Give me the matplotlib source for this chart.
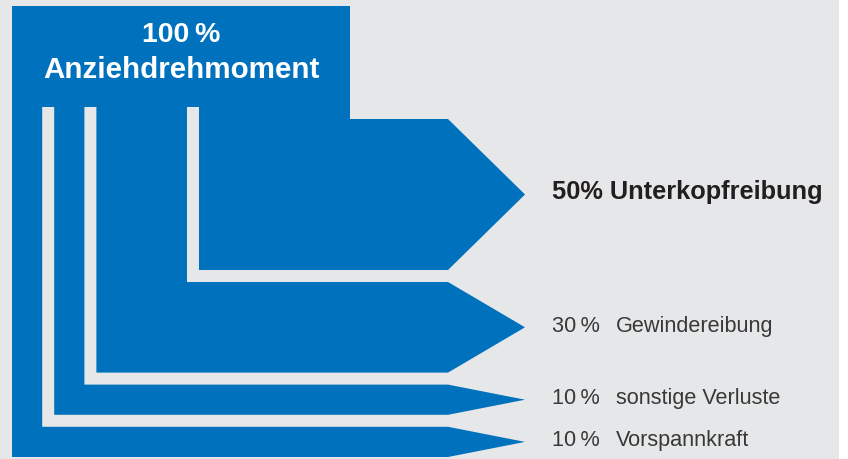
import matplotlib.pyplot as plt
from matplotlib.patches import Polygon, Rectangle

# shares of the tightening torque, from bottom / left flow to top / right flow
shares = [10, 10, 30, 50]
pct_labels = ["10\u2009%", "10\u2009%", "30\u2009%", "50%"]
names = ["Vorspannkraft", "sonstige Verluste", "Gewindereibung", "Unterkopfreibung"]
title_pct = "100\u2009%"
title_name = "Anziehdrehmoment"

blue = "#0071bc"
bg = "#e6e7e8"
fam = ["Liberation Sans", "DejaVu Sans"]

W, H = 848, 459
fig = plt.figure(figsize=(W / 100, H / 100), dpi=100)
ax = fig.add_axes([0, 0, 1, 1])
ax.set_xlim(0, W)
ax.set_ylim(H, 0)
ax.axis("off")
fig.patch.set_facecolor("white")

# gray panel
ax.add_patch(Rectangle((0, 0), 839, H, color=bg, lw=0))

u = 3.02        # px per percent
gap = 12        # gaps between flows
x0, y_top, y_bot = 12, 6, 457
y_split = 106   # where the flows separate
x_body, x_tip = 448, 525

# top block (100 %)
total_w = sum(shares) * u + gap * (len(shares) - 1)
ax.add_patch(Rectangle((x0, y_top), total_w, y_split - y_top + 1, color=blue, lw=0))

xl = x0
yb = y_bot
for i, s in enumerate(shares):
    w = s * u
    xr = xl + w
    bt = yb - w
    mid = (bt + yb) / 2
    pts = [(xl, y_split), (xr, y_split), (xr, bt), (x_body, bt),
           (x_tip, mid), (x_body, yb), (xl, yb)]
    ax.add_patch(Polygon(pts, closed=True, color=blue, lw=0))

    if s == max(shares):
        ax.text(552, mid + 4, pct_labels[i] + " " + names[i], fontsize=18.3,
                fontweight="bold", color="#231f20", va="baseline", ha="left",
                family=fam)
    else:
        ax.text(552, mid + 4.5, pct_labels[i], fontsize=15.6, color="#383838",
                va="baseline", ha="left", family=fam)
        ax.text(616, mid + 4.5, names[i], fontsize=15.6, color="#383838",
                va="baseline", ha="left", family=fam)

    xl = xr + gap
    yb = bt - gap

cx = x0 + total_w / 2
ax.text(cx, 42.5, title_pct, fontsize=20.5, fontweight="bold", color="white",
        ha="center", va="baseline", family=fam)
ax.text(cx, 77.5, title_name, fontsize=21.3, fontweight="bold", color="white",
        ha="center", va="baseline", family=fam)

fig.savefig("out.png", dpi=100, facecolor="white")
